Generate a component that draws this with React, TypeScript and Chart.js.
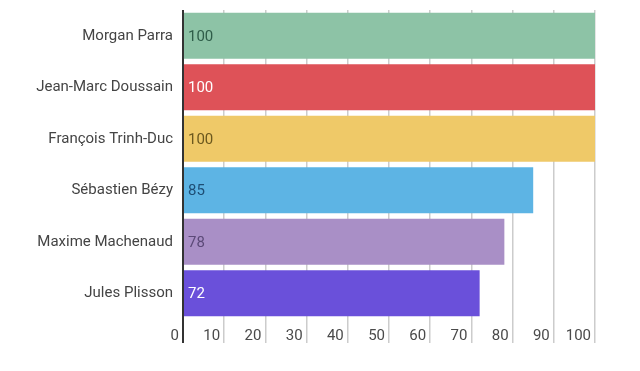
import React, { useEffect, useRef } from "react";
import { Chart, registerables } from "chart.js";

Chart.register(...registerables);

const players = [
  "Morgan Parra",
  "Jean-Marc Doussain",
  "François Trinh-Duc",
  "Sébastien Bézy",
  "Maxime Machenaud",
  "Jules Plisson",
];
const scores = [100, 100, 100, 85, 78, 72];
const barColors = ["#8DC3A6", "#DE5258", "#EFC968", "#5DB4E4", "#A98FC6", "#6A50DA"];
const labelColors = ["#2F5D49", "#FFFFFF", "#6B581E", "#1E4E75", "#5C4A78", "#FFFFFF"];
const xTicks = [0, 10, 20, 30, 40, 50, 60, 70, 80, 90, 100];

const FONT = "Roboto, 'Noto Sans', sans-serif";

const valueLabels = {
  id: "valueLabels",
  afterDatasetsDraw(chart: any) {
    const ctx = chart.ctx;
    const meta = chart.getDatasetMeta(0);
    ctx.save();
    ctx.font = `15px ${FONT}`;
    ctx.textAlign = "left";
    ctx.textBaseline = "middle";
    meta.data.forEach((bar: any, i: number) => {
      ctx.fillStyle = labelColors[i];
      ctx.fillText(String(scores[i]), bar.base + 4, bar.y + 1);
    });
    ctx.restore();
  },
};

export default function App() {
  const ref = useRef<HTMLCanvasElement>(null);
  useEffect(() => {
    const chart = new Chart(ref.current!, {
      type: "bar",
      data: {
        labels: players,
        datasets: [
          {
            data: scores,
            backgroundColor: barColors,
            borderWidth: 0,
            barPercentage: 0.893,
            categoryPercentage: 1,
          },
        ],
      },
      options: {
        indexAxis: "y",
        animation: false,
        responsive: false,
        maintainAspectRatio: false,
        layout: { padding: { top: 10, right: 45, bottom: 0, left: 0 } },
        plugins: { legend: { display: false }, tooltip: { enabled: false } },
        scales: {
          x: {
            min: 0,
            max: 100,
            afterBuildTicks: (scale: any) => {
              scale.ticks = xTicks.map((v) => ({ value: v }));
            },
            afterFit: (scale: any) => {
              scale.height = 52;
              scale.paddingLeft = 0;
              scale.paddingRight = 0;
            },
            border: { display: false },
            grid: {
              color: (c: any) => (c.tick && c.tick.value === 0 ? "#333333" : "#CCCCCC"),
              lineWidth: (c: any) => (c.tick && c.tick.value === 0 ? 2 : 1.5),
              drawTicks: true,
              tickLength: 24,
            },
            ticks: {
              align: "end",
              labelOffset: -4,
              padding: -16,
              color: "#4A4A4A",
              font: { family: FONT, size: 15 },
              maxRotation: 0,
              autoSkip: false,
            },
          },
          y: {
            afterFit: (scale: any) => {
              scale.width = 183;
              scale.paddingTop = 0;
              scale.paddingBottom = 0;
            },
            border: { display: false },
            grid: { display: false, drawTicks: false, tickLength: 0 },
            ticks: {
              padding: 10,
              color: "#444444",
              font: { family: FONT, size: 15 },
            },
          },
        },
      },
      plugins: [valueLabels],
    });
    return () => chart.destroy();
  }, []);
  return (
    <div style={{ position: "fixed", left: 0, top: 0, width: 640, height: 371, background: "#fff" }}>
      <canvas ref={ref} width={640} height={371} style={{ width: 640, height: 371 }} />
    </div>
  );
}
